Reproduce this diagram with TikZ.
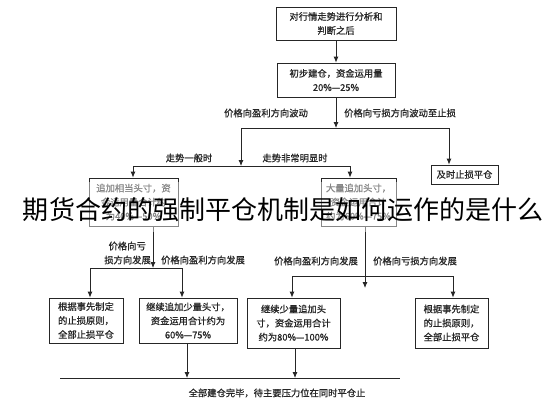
\documentclass[tikz,border=0pt]{standalone}
\usepackage{fontspec}
\newfontfamily\cjk{Noto Sans CJK SC}
\newfontfamily\cjkb[FakeBold=0.8]{Noto Sans CJK SC}
\usetikzlibrary{arrows.meta}
\begin{document}
\begin{tikzpicture}[x=1pt,y=-1pt,
  bx/.style={draw=black!85,line width=0.8pt,inner sep=0pt,align=center,text=black!85,
    font=\cjkb\fontsize{9.3}{14}\selectfont},
  lbl/.style={inner sep=0pt,text=black!85,font=\cjkb\fontsize{9.3}{12}\selectfont},
  ln/.style={draw=black!85,line width=0.8pt},
  arr/.style={ln,-{Latex[length=6pt,width=5pt]}}]
\useasboundingbox[fill=white] (0,0) rectangle (543,400);
% boxes
\node[bx,minimum width=120pt,minimum height=33pt] (top) at (336,23.5) {对行情走势进行分析和\\判断之后};
\node[bx,minimum width=118pt,minimum height=34pt] (b2) at (336,80) {初步建仓，资金运用量\\20\%—25\%};
\node[bx,minimum width=67pt,minimum height=19pt] (stop) at (464.5,174.5) {及时止损平仓};
\node[bx,minimum width=89pt,minimum height=48pt] (L) at (133.5,202) {追加相当头寸，资\\金运用量合计约\\为40\%—50\%};
\node[bx,minimum width=75pt,minimum height=48pt] (R) at (358.5,202) {大量追加头寸，\\资金运用合计\\约为60\%—75\%};
\node[bx,minimum width=74pt,minimum height=45pt] (A) at (86,320.5) {根据事先制定\\的止损原则，\\全部止损平仓};
\node[bx,minimum width=98pt,minimum height=45pt] (B) at (188,320.5) {继续追加少量头寸，\\资金运用合计约为\\60\%—75\%};
\node[bx,minimum width=93pt,minimum height=50pt] (C) at (293.5,323) {继续少量追加头\\寸，资金运用合计\\约为80\%—100\%};
\node[bx,minimum width=73pt,minimum height=50pt] (D) at (451.5,323) {根据事先制定\\的止损原则，\\全部止损平仓};
% coordinates
\coordinate (j1) at (336,128);
\coordinate (j1l) at (241,128);
\coordinate (j1r) at (449,128);
\coordinate (h3l) at (133,166);
\coordinate (h3m) at (241,166);
\coordinate (h3r) at (350,166);
\coordinate (lv) at (153,268);
\coordinate (hAl) at (90,268);
\coordinate (hAr) at (182,268);
\coordinate (rv) at (365,288);
\coordinate (hCl) at (292,276);
\coordinate (hCr) at (453,276);
\coordinate (bl) at (60,378);
\coordinate (br) at (400,378);
\coordinate (bB) at (187,378);
\coordinate (bC) at (295,378);
% connectors
\draw[arr] (top) -- (b2);
\draw[arr] (b2) -- (j1);
\draw[ln] (j1l) -- (j1r);
\draw[arr] (j1l) -- (h3m);
\draw[arr] (j1r) -- (j1r |- stop.north);
\draw[ln] (h3l) -- (h3r);
\draw[arr] (h3l) -- (h3l |- L.north);
\draw[arr] (h3r) -- (h3r |- R.north);
\draw[arr] (lv |- L.south) -- (lv);
\draw[ln] (hAl) -- (hAr);
\draw[arr] (hAl) -- (hAl |- A.north);
\draw[arr] (hAr) -- (hAr |- B.north);
\draw[arr] (rv |- R.south) -- (rv);
\draw[ln] (hCl) -- (hCr);
\draw[arr] (hCl) -- (hCl |- C.north);
\draw[arr] (hCr) -- (hCr |- D.north);
\draw[arr] (bB |- B.south) -- (bB);
\draw[arr] (bC |- C.south) -- (bC);
\draw[ln] (bl) -- (br);
% labels
\node[lbl] (t1) at (266,113) {价格向盈利方向波动};
\node[lbl] (t2) at (400,113) {价格向亏损方向波动至止损};
\node[lbl] (t3) at (189,158) {走势一般时};
\node[lbl] (t4) at (295,158) {走势非常明显时};
\node[lbl,anchor=east] (t5) at (146,246) {价格向亏};
\node[lbl,anchor=east] (t6) at (151,260) {损方向发展};
\node[lbl] (t7) at (203,260) {价格向盈利方向发展};
\node[lbl] (t8) at (316,261) {价格向盈利方向发展};
\node[lbl] (t9) at (415,261) {价格向亏损方向发展};
\node[lbl] (t10) at (277,393) {全部建仓完毕，待主要压力位在同时平仓止};
% overlay band and caption
\fill[white,opacity=0.45] (85,182) rectangle (400,232);
\node[inner sep=0pt,font=\cjk\fontsize{26}{26}\selectfont,text=black] (cap) at (283,210) {期货合约的强制平仓机制是如何运作的是什么};
\end{tikzpicture}
\end{document}
